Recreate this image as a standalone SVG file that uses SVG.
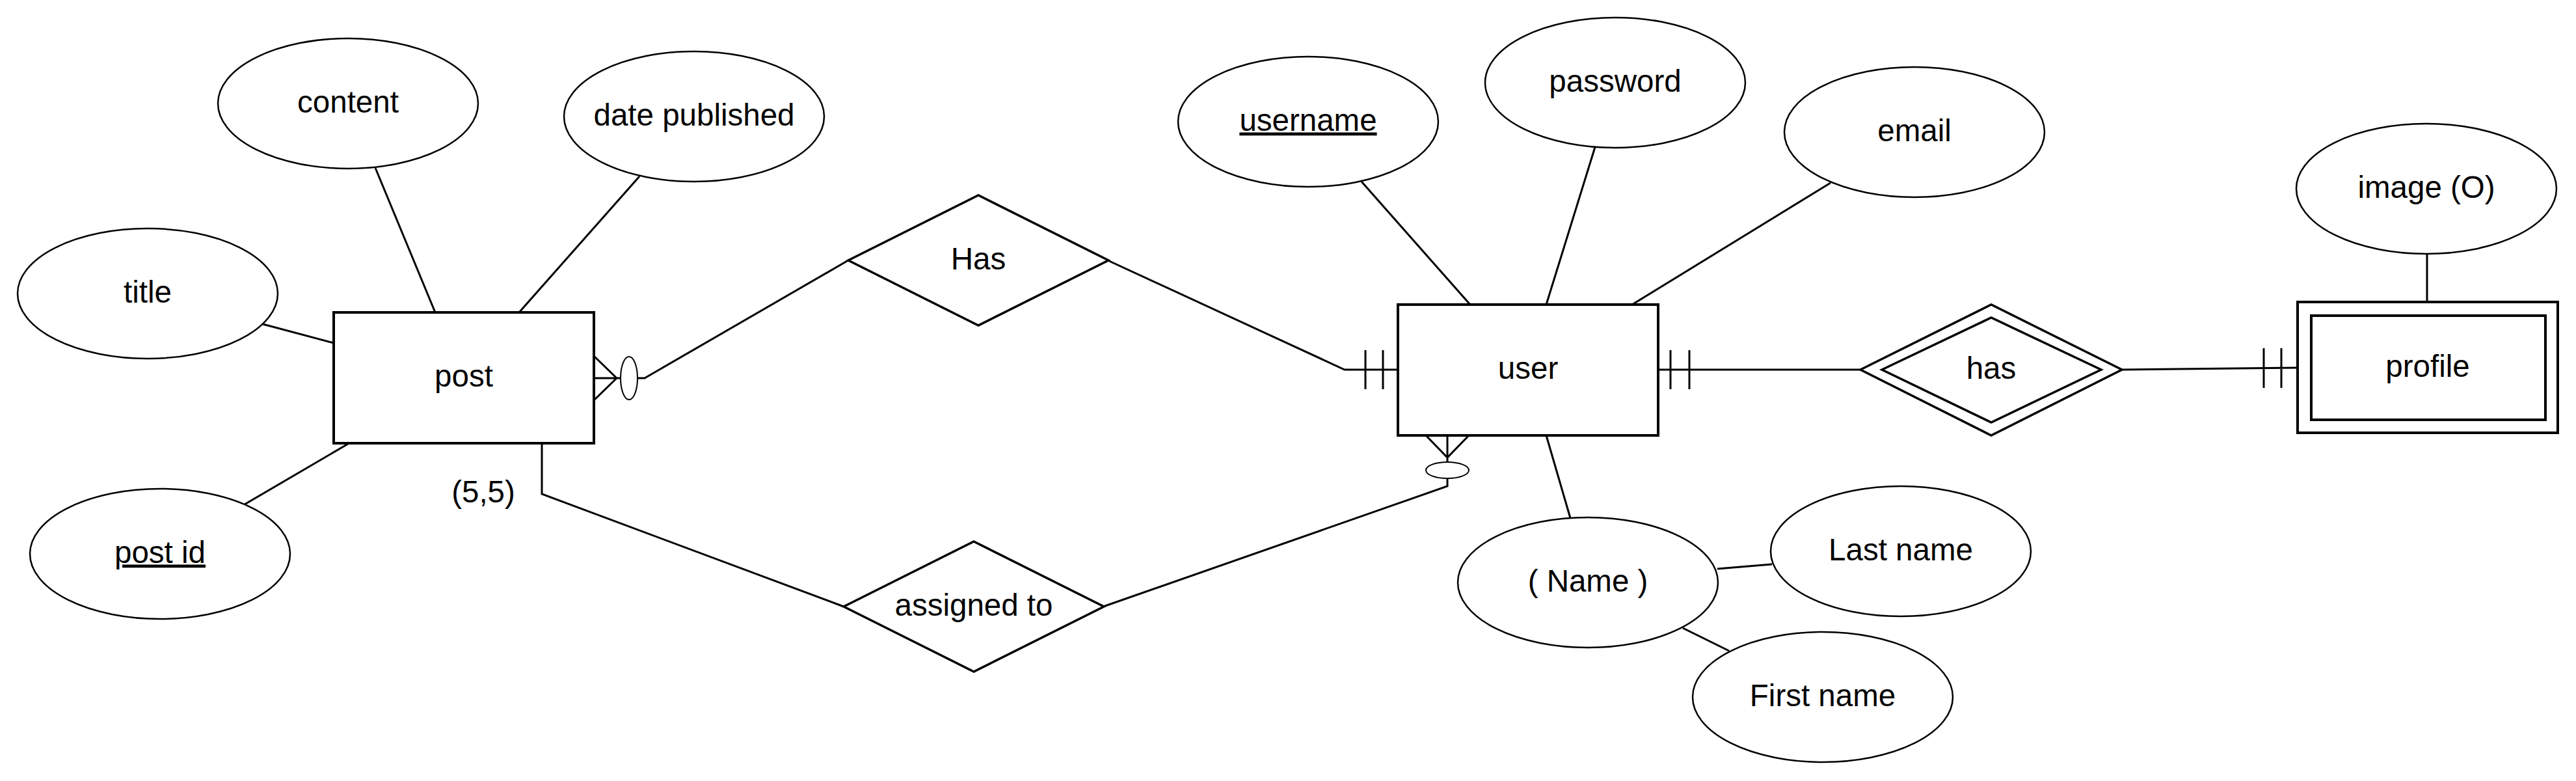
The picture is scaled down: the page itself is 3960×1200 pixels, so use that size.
<svg xmlns="http://www.w3.org/2000/svg" width="3960" height="1200" viewBox="0 0 3960 1200">
<style>
.attr{fill:#fff;stroke:#000;stroke-width:2.5}
.ent{fill:#fff;stroke:#000;stroke-width:4}
.rel{fill:#fff;stroke:#000;stroke-width:3.5}
.ln{fill:none;stroke:#000;stroke-width:3}
.mk{fill:#fff;stroke:#000;stroke-width:2}
text{font-family:"Liberation Sans",Arial,sans-serif;font-size:47.5px;fill:#000;text-anchor:middle}
.key{text-decoration:underline}
</style>
<rect width="3960" height="1200" fill="#fff"/>
<g id="connectors">
<line class="ln" x1="577" y1="258" x2="669" y2="480"/>
<line class="ln" x1="983" y1="271" x2="798" y2="480"/>
<line class="ln" x1="404" y1="498" x2="513" y2="527"/>
<line class="ln" x1="376" y1="775" x2="535" y2="682"/>
<path class="ln" d="M913 547L948 581L913 615M913 581H954M980 581H991L1304 400"/>
<ellipse class="mk" cx="967" cy="581" rx="13" ry="33"/>
<path class="ln" d="M1705 401L2067 568H2149M2099 538V598M2126 538V598"/>
<path class="ln" d="M833 681V759L1297 932"/>
<path class="ln" d="M1696 932L2225 747V735M2225 710V668M2191 668L2225 703L2259 668"/>
<ellipse class="mk" cx="2225" cy="722.5" rx="33" ry="12.5"/>
<line class="ln" x1="2093" y1="279" x2="2260" y2="468"/>
<line class="ln" x1="2452" y1="226" x2="2377" y2="468"/>
<line class="ln" x1="2814" y1="281" x2="2509" y2="468"/>
<line class="ln" x1="2377" y1="669" x2="2414" y2="796"/>
<line class="ln" x1="2640" y1="874" x2="2724" y2="867"/>
<line class="ln" x1="2587" y1="965" x2="2658" y2="1000"/>
<path class="ln" d="M2549 568H2860M2568 538V598M2597 538V598"/>
<path class="ln" d="M3262 568L3532 565M3480 535V596M3507 535V596"/>
<line class="ln" x1="3731" y1="390" x2="3731" y2="464"/>
</g>
<g id="content"><ellipse class="attr" cx="535" cy="159" rx="200" ry="100"/><text x="535" y="172.5">content</text></g>
<g id="date_published"><ellipse class="attr" cx="1067" cy="179" rx="200" ry="100"/><text x="1067" y="192.5">date published</text></g>
<g id="title"><ellipse class="attr" cx="227" cy="451" rx="200" ry="100"/><text x="227" y="464.5">title</text></g>
<g id="post_id"><ellipse class="attr" cx="246" cy="851" rx="200" ry="100"/><text class="key" x="246" y="864.5">post id</text></g>
<g id="post"><rect class="ent" x="513" y="480" width="400" height="201"/><text x="713" y="594">post</text></g>
<g id="label_5_5"><text x="743" y="772">(5,5)</text></g>
<g id="Has"><polygon class="rel" points="1304,400 1504,300 1704,400 1504,500"/><text x="1504" y="413.5">Has</text></g>
<g id="assigned_to"><polygon class="rel" points="1297,932 1497,832 1697,932 1497,1032"/><text x="1497" y="945.5">assigned to</text></g>
<g id="user"><rect class="ent" x="2149" y="468" width="400" height="201"/><text x="2349" y="582">user</text></g>
<g id="username"><ellipse class="attr" cx="2011" cy="187" rx="200" ry="100"/><text class="key" x="2011" y="200.5">username</text></g>
<g id="password"><ellipse class="attr" cx="2483" cy="127" rx="200" ry="100"/><text x="2483" y="140.5">password</text></g>
<g id="email"><ellipse class="attr" cx="2943" cy="203" rx="200" ry="100"/><text x="2943" y="216.5">email</text></g>
<g id="name"><ellipse class="attr" cx="2441" cy="895" rx="200" ry="100"/><text x="2441" y="908.5">( Name )</text></g>
<g id="last_name"><ellipse class="attr" cx="2922" cy="847" rx="200" ry="100"/><text x="2922" y="860.5">Last name</text></g>
<g id="first_name"><ellipse class="attr" cx="2802" cy="1071" rx="200" ry="100"/><text x="2802" y="1084.5">First name</text></g>
<g id="has"><polygon class="rel" points="2860,568 3061,468 3262,568 3061,669"/><polygon class="rel" points="2893,568 3061,488 3230,568 3061,649"/><text x="3061" y="581.5">has</text></g>
<g id="profile"><rect class="ent" x="3532" y="464" width="400" height="201"/><rect class="ent" x="3553" y="485" width="360" height="160"/><text x="3732" y="578.5">profile</text></g>
<g id="image"><ellipse class="attr" cx="3730" cy="290" rx="200" ry="100"/><text x="3730" y="303.5">image (O)</text></g>
</svg>
